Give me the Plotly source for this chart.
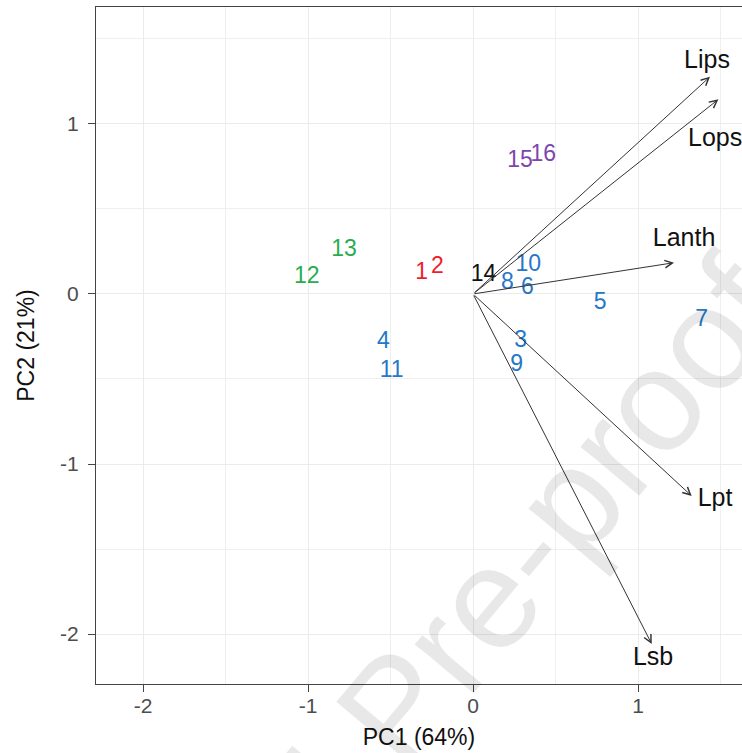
import plotly.graph_objects as go

# ---- data ----
sample_labels = ["1", "2", "3", "4", "5", "6", "7", "8", "9", "10", "11", "12", "13", "14", "15", "16"]
pc1 = [-0.311, -0.216, 0.289, -0.543, 0.770, 0.329, 1.386, 0.208, 0.265, 0.335, -0.493, -1.008, -0.782, 0.063, 0.285, 0.426]
pc2 = [0.122, 0.160, -0.280, -0.286, -0.055, 0.033, -0.153, 0.063, -0.418, 0.171, -0.457, 0.098, 0.259, 0.112, 0.778, 0.818]
group = ["red", "red", "blue", "blue", "blue", "blue", "blue", "blue", "blue", "blue", "blue",
         "green", "green", "black", "purple", "purple"]

var_names = ["Lips", "Lops", "Lanth", "Lpt", "Lsb"]
load_x = [1.436, 1.487, 1.218, 1.325, 1.083]
load_y = [1.278, 1.145, 0.184, -1.188, -2.059]
label_x = [1.418, 1.467, 1.279, 1.467, 1.091]
label_y = [1.365, 0.906, 0.318, -1.212, -2.147]

x_ticks = [-2, -1, 0, 1]
y_ticks = [-2, -1, 0, 1]
x_title = "PC1 (64%)"
y_title = "PC2 (21%)"

# ---- styles ----
group_colors = {"red": "#EE1D2B", "blue": "#2577C8", "green": "#27AD4F",
                "black": "#111111", "purple": "#7E45AE"}
FONT = "Liberation Sans, Arial, Helvetica, sans-serif"

fig = go.Figure()

for g in ["blue", "red", "green", "black", "purple"]:
    idx = [i for i, gg in enumerate(group) if gg == g]
    fig.add_trace(go.Scatter(
        x=[pc1[i] for i in idx], y=[pc2[i] for i in idx],
        text=[sample_labels[i] for i in idx],
        mode="text", textposition="middle center",
        textfont=dict(family=FONT, size=23, color=group_colors[g]),
        cliponaxis=False, showlegend=False, hoverinfo="skip"))

# arrows (from origin to loadings)
for vx, vy in zip(load_x, load_y):
    fig.add_annotation(x=vx, y=vy, ax=0, ay=0, xref="x", yref="y", axref="x", ayref="y",
                       text="", showarrow=True, arrowhead=5, arrowsize=1.5,
                       arrowwidth=1, arrowcolor="#333333")

# variable labels
fig.add_trace(go.Scatter(
    x=label_x, y=label_y, text=var_names, mode="text", textposition="middle center",
    textfont=dict(family=FONT, size=25, color="#111111"),
    cliponaxis=False, showlegend=False, hoverinfo="skip"))

# watermark of the source document
fig.add_annotation(xref="paper", yref="paper", x=0.463, y=-0.037,
                   xanchor="center", yanchor="middle",
                   text="Journal Pre-proof", showarrow=False, textangle=-50,
                   font=dict(family=FONT, size=145, color="rgba(0,0,0,0.09)"))

axis_common = dict(
    showgrid=True, gridcolor="#EBEBEB", gridwidth=1.2,
    zeroline=False, showline=True, linecolor="#444444", linewidth=1.4,
    ticks="outside", ticklen=7, tickwidth=1.2, tickcolor="#444444",
    tickfont=dict(family=FONT, size=21, color="#4D4D4D"),
    minor=dict(dtick=0.5, tick0=0, showgrid=True, gridcolor="#EFEFEF", gridwidth=0.9, ticks=""),
)

fig.update_xaxes(range=[-2.285, 1.63], tickvals=x_ticks, ticktext=[str(v) for v in x_ticks],
                 mirror=True, ticklabelstandoff=-4,
                 title=dict(text=x_title, font=dict(family=FONT, size=23, color="#111111"), standoff=12),
                 **axis_common)
fig.update_yaxes(range=[-2.294, 1.688], tickvals=y_ticks, ticktext=[str(v) for v in y_ticks],
                 ticklabelstandoff=5,
                 title=dict(text=y_title, font=dict(family=FONT, size=23, color="#111111"), standoff=18),
                 **axis_common)

fig.update_layout(width=742, height=753, margin=dict(l=96, r=0, t=7, b=69),
                  plot_bgcolor="white", paper_bgcolor="white",
                  font=dict(family=FONT))

fig.write_html("out.html", config={"displayModeBar": False},
               post_script="document.body.style.margin='0';document.body.style.overflow='hidden';")
